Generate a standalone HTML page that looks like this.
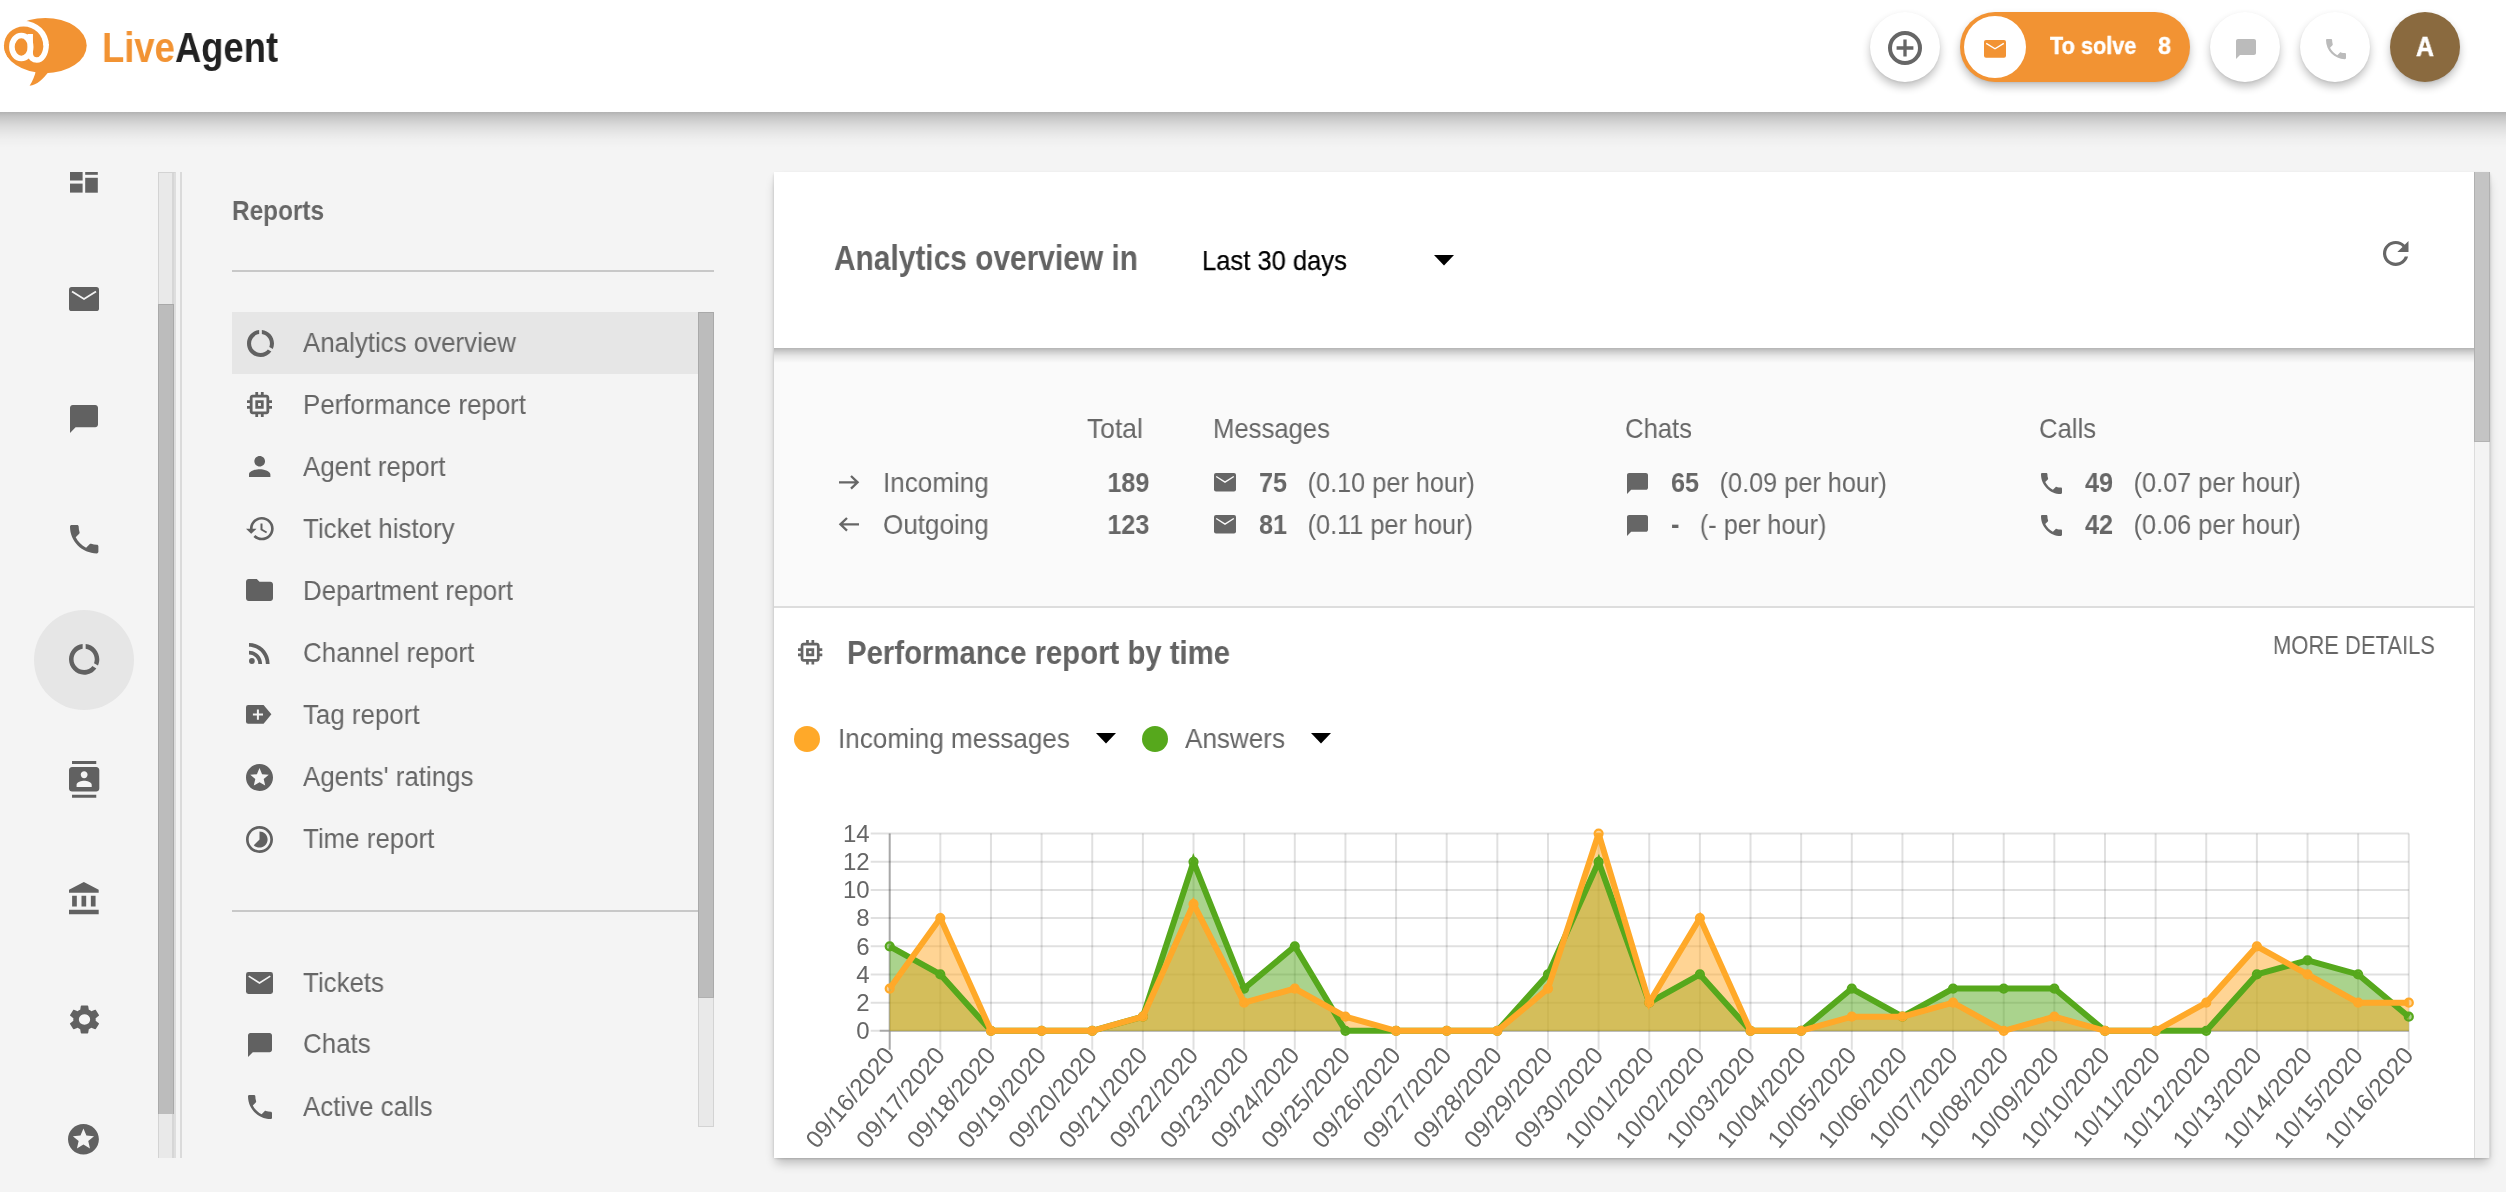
<!DOCTYPE html>
<html lang="en"><head><meta charset="utf-8"><title>LiveAgent - Analytics overview</title>
<style>
*{margin:0;padding:0;box-sizing:border-box}
html,body{width:2506px;height:1192px;overflow:hidden;-webkit-font-smoothing:antialiased;background:#f4f4f4;font-family:"Liberation Sans",Arial,sans-serif;color:#666}
.abs{position:absolute}
.t{position:absolute;line-height:1;white-space:nowrap;will-change:transform}
.i{position:absolute;overflow:visible}
</style></head><body>
<div class="abs" style="left:0;top:0;width:2506px;height:112px;background:#fff"></div>
<div class="abs" style="left:0;top:112px;width:2506px;height:36px;background:linear-gradient(to bottom,rgba(0,0,0,.27) 0px,rgba(0,0,0,.20) 4px,rgba(0,0,0,.16) 8px,rgba(0,0,0,.11) 13px,rgba(0,0,0,.074) 18px,rgba(0,0,0,.045) 23px,rgba(0,0,0,.02) 28px,rgba(0,0,0,0) 36px)"></div>
<svg class="i" style="left:0;top:0;width:100px;height:100px" viewBox="0 0 100 100">
<ellipse cx="45.3" cy="45.6" rx="41.4" ry="27.6" fill="#f29333"/>
<path d="M36 70 C35 76 32.5 81 29.6 85.8 C37 85 43 79 48.5 72 Z" fill="#f29333"/>
<path d="M-2 45.5 A25.3 24.6 0 0 1 48.9 45.5 Z" fill="#fff"/>
<ellipse cx="23.6" cy="45.5" rx="19.6" ry="19" fill="#f29333"/>
<g fill="none" stroke="#fff">
<ellipse cx="21.3" cy="47" rx="9.4" ry="11.5" stroke-width="5.6"/>
<path d="M46.2 44 C46.2 54.5 41.5 60 36.8 60 C33.5 60 30.2 58 30.2 53 L30.2 34" stroke-width="5.5"/>
</g>
</svg>
<div class="t" style="left:101.50px;top:26.89px;font-size:41.7px;font-weight:700;color:#f29333;transform:scaleX(0.873);transform-origin:0 0;">Live</div>
<div class="t" style="left:174.50px;top:26.89px;font-size:41.7px;font-weight:700;color:#222;transform:scaleX(0.873);transform-origin:0 0;">Agent</div>
<div class="abs" style="left:1870.00px;top:12.00px;width:70px;height:70px;border-radius:50%;background:#fff;box-shadow:0 5px 9px rgba(0,0,0,.24),0 1px 2px rgba(0,0,0,.06);"></div>
<svg class="i" style="left:1888px;top:30.5px;width:34px;height:34px" viewBox="0 0 34 34"><circle cx="17" cy="17" r="15" fill="none" stroke="#666" stroke-width="4"/><path d="M8.6 17H25.4M17 8.6V25.4" stroke="#666" stroke-width="3.3"/></svg>
<div class="abs" style="left:1960px;top:12px;width:230px;height:70px;border-radius:35px;background:#f29333;box-shadow:0 5px 9px rgba(0,0,0,.24),0 1px 2px rgba(0,0,0,.06)"></div>
<div class="abs" style="left:1963.70px;top:16.00px;width:62px;height:62px;border-radius:50%;background:#fff;"></div>
<svg class="i" style="left:1984.00px;top:40.00px;width:22.00px;height:17.70px" viewBox="0 0 22.00 17.70"><rect x="0" y="0" width="22.00" height="17.70" rx="1.98" fill="#f29333"/><polyline points="2.20,3.36 11.00,8.85 19.80,3.36" fill="none" stroke="#fff" stroke-width="1.30"/></svg>
<div class="t" style="left:2050.00px;top:34.09px;font-size:24.7px;font-weight:700;color:#fff;transform:scaleX(0.879);transform-origin:0 0;-webkit-text-stroke:0.4px #fff;">To solve</div>
<div class="t" style="left:2157.50px;top:34.09px;font-size:24.7px;font-weight:700;color:#fff;transform:scaleX(0.95);transform-origin:0 0;-webkit-text-stroke:0.4px #fff;">8</div>
<div class="abs" style="left:2210.00px;top:12.00px;width:70px;height:70px;border-radius:50%;background:#fff;box-shadow:0 5px 9px rgba(0,0,0,.24),0 1px 2px rgba(0,0,0,.06);"></div>
<svg class="i" style="left:2235.50px;top:38.70px;width:20.00px;height:20.00px;" viewBox="2 2 20 20" preserveAspectRatio="none"><path fill="#bbb" d="M20 2H4c-1.1 0-2 .9-2 2v18l4-4h14c1.1 0 2-.9 2-2V4c0-1.1-.9-2-2-2z"/></svg>
<div class="abs" style="left:2300.00px;top:12.00px;width:70px;height:70px;border-radius:50%;background:#fff;box-shadow:0 5px 9px rgba(0,0,0,.24),0 1px 2px rgba(0,0,0,.06);"></div>
<svg class="i" style="left:2325.70px;top:38.70px;width:20.00px;height:20.20px;" viewBox="3 3 18 18" preserveAspectRatio="none"><path fill="#bbb" d="M6.62 10.79c1.44 2.83 3.76 5.14 6.59 6.59l2.2-2.2c.27-.27.67-.36 1.02-.24 1.12.37 2.33.57 3.57.57.55 0 1 .45 1 1V20c0 .55-.45 1-1 1-9.39 0-17-7.61-17-17 0-.55.45-1 1-1h3.5c.55 0 1 .45 1 1 0 1.25.2 2.45.57 3.57.11.35.03.74-.25 1.02l-2.2 2.2z"/></svg>
<div class="abs" style="left:2390.00px;top:12.00px;width:70px;height:70px;border-radius:50%;background:#8a6a3f;box-shadow:0 5px 9px rgba(0,0,0,.24),0 1px 2px rgba(0,0,0,.06);"></div>
<div class="t" style="left:2416.30px;top:32.83px;font-size:27.6px;font-weight:700;color:#fff;transform:scaleX(0.9);transform-origin:0 0;-webkit-text-stroke:0.6px #fff;">A</div>
<svg class="i" style="left:70px;top:172px;width:28px;height:21px" viewBox="0 0 28 21"><g fill="#616161">
<rect x="0" y="0" width="12.6" height="8.5"/><rect x="0" y="11.6" width="12.6" height="9"/>
<rect x="15.2" y="0" width="12.6" height="2.8"/><rect x="15.2" y="5.8" width="12.6" height="14.9"/></g></svg>
<svg class="i" style="left:69.00px;top:287.00px;width:30.00px;height:24.10px" viewBox="0 0 30.00 24.10"><rect x="0" y="0" width="30.00" height="24.10" rx="2.70" fill="#616161"/><polyline points="3.00,4.58 15.00,12.05 27.00,4.58" fill="none" stroke="#f4f4f4" stroke-width="1.80"/></svg>
<svg class="i" style="left:70.00px;top:405.30px;width:28.00px;height:27.90px;" viewBox="2 2 20 20" preserveAspectRatio="none"><path fill="#616161" d="M20 2H4c-1.1 0-2 .9-2 2v18l4-4h14c1.1 0 2-.9 2-2V4c0-1.1-.9-2-2-2z"/></svg>
<svg class="i" style="left:70.00px;top:525.00px;width:28.40px;height:28.40px;" viewBox="3 3 18 18" preserveAspectRatio="none"><path fill="#616161" d="M6.62 10.79c1.44 2.83 3.76 5.14 6.59 6.59l2.2-2.2c.27-.27.67-.36 1.02-.24 1.12.37 2.33.57 3.57.57.55 0 1 .45 1 1V20c0 .55-.45 1-1 1-9.39 0-17-7.61-17-17 0-.55.45-1 1-1h3.5c.55 0 1 .45 1 1 0 1.25.2 2.45.57 3.57.11.35.03.74-.25 1.02l-2.2 2.2z"/></svg>
<div class="abs" style="left:34.00px;top:609.50px;width:100px;height:100px;border-radius:50%;background:#e6e6e6;"></div>
<svg class="i" style="left:69.00px;top:644.00px;width:30.30px;height:30.70px;" viewBox="2 2.05 20 19.95" preserveAspectRatio="none"><path fill="#616161" d="M13 2.05v3.03c3.39.49 6 3.39 6 6.92 0 .9-.18 1.75-.48 2.54l2.6 1.53c.56-1.24.88-2.62.88-4.07 0-5.18-3.95-9.45-9-9.95zM12 19c-3.87 0-7-3.13-7-7 0-3.53 2.61-6.43 6-6.92V2.05c-5.06.5-9 4.76-9 9.95 0 5.52 4.47 10 9.99 10 3.31 0 6.24-1.61 8.06-4.09l-2.6-1.53C16.17 17.98 14.21 19 12 19z"/></svg>
<svg class="i" style="left:69.00px;top:760.70px;width:30.30px;height:36.70px;" viewBox="2 0 20 24" preserveAspectRatio="none"><path fill="#616161" d="M20 0H4v2h16V0zM4 24h16v-2H4v2zM20 4H4c-1.1 0-2 .9-2 2v12c0 1.1.9 2 2 2h16c1.1 0 2-.9 2-2V6c0-1.1-.9-2-2-2zm-8 2.75c1.24 0 2.25 1.01 2.25 2.25s-1.01 2.25-2.25 2.25S9.75 10.24 9.75 9 10.760 6.75 12 6.75zM17 17H7v-1.5c0-1.67 3.33-2.5 5-2.5s5 .83 5 2.5V17z"/></svg>
<svg class="i" style="left:69.00px;top:882.20px;width:29.70px;height:32.30px;" viewBox="2 1 19 21" preserveAspectRatio="none"><path fill="#616161" d="M4 10v7h3v-7H4zm6 0v7h3v-7h-3zM2 22h19v-3H2v3zm14-12v7h3v-7h-3zm-4.5-9L2 6v2h19V6l-9.5-5z"/></svg>
<svg class="i" style="left:69.70px;top:1004.60px;width:29.00px;height:29.00px;" viewBox="2.7 2 18.6 20" preserveAspectRatio="none"><path fill="#616161" d="M19.14 12.94c.04-.3.06-.61.06-.94 0-.32-.02-.64-.07-.94l2.03-1.58c.18-.14.23-.41.12-.61l-1.92-3.32c-.12-.22-.37-.29-.59-.22l-2.39.96c-.5-.38-1.03-.7-1.62-.94l-.36-2.54c-.04-.24-.24-.41-.48-.41h-3.84c-.24 0-.43.17-.47.41l-.36 2.54c-.59.24-1.13.57-1.62.94l-2.39-.96c-.22-.08-.47 0-.59.22L2.74 8.87c-.12.21-.08.47.12.61l2.03 1.58c-.05.3-.09.63-.09.94s.02.64.07.94l-2.03 1.58c-.18.14-.23.41-.12.61l1.920 3.32c.12.22.37.29.59.22l2.39-.96c.5.38 1.03.7 1.62.94l.36 2.54c.05.24.24.41.48.41h3.84c.24 0 .44-.17.47-.41l.36-2.54c.59-.24 1.13-.56 1.62-.94l2.39.96c.22.08.47 0 .59-.22l1.92-3.32c.12-.22.07-.47-.12-.61l-2.01-1.58zM12 15.6c-1.98 0-3.6-1.62-3.6-3.6s1.62-3.6 3.6-3.6 3.6 1.62 3.6 3.6-1.62 3.6-3.6 3.6z"/></svg>
<svg class="i" style="left:68.40px;top:1124.00px;width:30.90px;height:30.60px;" viewBox="2 2 20 20" preserveAspectRatio="none"><path fill="#616161" d="M11.99 2C6.47 2 2 6.48 2 12s4.47 10 9.99 10C17.52 22 22 17.52 22 12S17.52 2 11.99 2zm4.24 16L12 15.45 7.77 18l1.12-4.81-3.73-3.23 4.92-.42L12 5l1.92 4.53 4.92.42-3.73 3.23L16.230 18z"/></svg>
<div class="abs" style="left:158px;top:172px;width:18px;height:986px;background:#e9e9e9;border-left:1px solid #d3d3d3;border-right:2px solid #dedede;border-top:1px solid #d3d3d3;box-shadow:inset -2px 0 0 #d6d6d6"></div>
<div class="abs" style="left:158px;top:304px;width:16px;height:810px;background:#bcbcbc;border-left:1px solid #a9a9a9;border-right:1px solid #a9a9a9;border-top:1px solid #a9a9a9"></div>
<div class="abs" style="left:180px;top:172px;width:2px;height:986px;background:#dadada"></div>
<div class="t" style="left:232.00px;top:197.13px;font-size:27.6px;font-weight:700;color:#666;transform:scaleX(0.882);transform-origin:0 0;">Reports</div>
<div class="abs" style="left:232px;top:269.5px;width:482px;height:2px;background:#c8c8c8"></div>
<div class="abs" style="left:232px;top:312px;width:466px;height:62px;background:#e6e6e6"></div>
<div class="abs" style="left:698px;top:312px;width:16px;height:815px;background:#e9e9e9;border-left:1px solid #d3d3d3;border-right:1px solid #d3d3d3;border-bottom:1px solid #d3d3d3"></div>
<div class="abs" style="left:698px;top:312px;width:16px;height:686px;background:#bcbcbc;border-left:1px solid #a9a9a9;border-right:1px solid #a9a9a9;border-top:1px solid #a9a9a9;border-bottom:1px solid #b0b0b0"></div>
<svg class="i" style="left:246.50px;top:330.00px;width:27.00px;height:27.00px;" viewBox="2 2.05 20 19.95" preserveAspectRatio="none"><path fill="#616161" d="M13 2.05v3.03c3.39.49 6 3.39 6 6.92 0 .9-.18 1.75-.48 2.54l2.6 1.53c.56-1.24.88-2.62.88-4.07 0-5.18-3.95-9.45-9-9.95zM12 19c-3.87 0-7-3.13-7-7 0-3.53 2.61-6.43 6-6.92V2.05c-5.06.5-9 4.76-9 9.95 0 5.52 4.47 10 9.99 10 3.31 0 6.24-1.61 8.06-4.09l-2.6-1.53C16.17 17.98 14.21 19 12 19z"/></svg>
<div class="t" style="left:302.60px;top:329.05px;font-size:27.7px;color:#666;transform:scaleX(0.935);transform-origin:0 0;">Analytics overview</div>
<svg class="i" style="left:247.00px;top:392.00px;width:25.00px;height:25.00px;" viewBox="3 3 18 18" preserveAspectRatio="none"><path fill="#616161" d="M15 9H9v6h6V9zm-2 4h-2v-2h2v2zm8-2V9h-2V7c0-1.1-.9-2-2-2h-2V3h-2v2h-2V3H9v2H7c-1.1 0-2 .9-2 2v2H3v2h2v2H3v2h2v2c0 1.1.9 2 2 2h2v2h2v-2h2v2h2v-2h2c1.1 0 2-.9 2-2v-2h2v-2h-2v-2h2zm-4 6H7V7h10v10z"/></svg>
<div class="t" style="left:302.60px;top:391.05px;font-size:27.7px;color:#666;transform:scaleX(0.935);transform-origin:0 0;">Performance report</div>
<svg class="i" style="left:249.00px;top:456.00px;width:21.40px;height:21.00px;" viewBox="4 4 16 16" preserveAspectRatio="none"><path fill="#616161" d="M12 12c2.21 0 4-1.79 4-4s-1.79-4-4-4-4 1.79-4 4 1.79 4 4 4zm0 2c-2.67 0-8 1.34-8 4v2h16v-2c0-2.66-5.330-4-8-4z"/></svg>
<div class="t" style="left:302.60px;top:453.05px;font-size:27.7px;color:#666;transform:scaleX(0.935);transform-origin:0 0;">Agent report</div>
<svg class="i" style="left:245.90px;top:517.20px;width:27.70px;height:23.30px;" viewBox="1 3 21 18" preserveAspectRatio="none"><path fill="#616161" d="M13 3c-4.97 0-9 4.03-9 9H1l3.89 3.89.07.14L9 12H6c0-3.87 3.13-7 7-7s7 3.13 7 7-3.13 7-7 7c-1.93 0-3.68-.79-4.94-2.06l-1.42 1.42C8.27 19.99 10.51 21 13 21c4.97 0 9-4.03 9-9s-4.03-9-9-9zm-1 5v5l4.28 2.54.72-1.21-3.5-2.08V8H12z"/></svg>
<div class="t" style="left:302.60px;top:515.05px;font-size:27.7px;color:#666;transform:scaleX(0.935);transform-origin:0 0;">Ticket history</div>
<svg class="i" style="left:246.00px;top:579.00px;width:27.00px;height:22.00px;" viewBox="2 4 20 16" preserveAspectRatio="none"><path fill="#616161" d="M10 4H4c-1.1 0-1.99.9-1.99 2L2 18c0 1.1.9 2 2 2h16c1.1 0 2-.9 2-2V8c0-1.1-.9-2-2-2h-8l-2-2z"/></svg>
<div class="t" style="left:302.60px;top:577.05px;font-size:27.7px;color:#666;transform:scaleX(0.935);transform-origin:0 0;">Department report</div>
<svg class="i" style="left:249.00px;top:643.00px;width:20.60px;height:21.00px;" viewBox="4 4.44 15.56 15.56" preserveAspectRatio="none"><path fill="#616161" d="M6.18 15.64a2.18 2.18 0 1 1 0 4.36 2.18 2.18 0 0 1 0-4.36zM4 4.44v2.83c7.03 0 12.73 5.7 12.73 12.73h2.83c0-8.59-6.97-15.56-15.56-15.56zm0 5.66v2.83c3.9 0 7.07 3.17 7.07 7.07h2.83c0-5.47-4.43-9.9-9.9-9.9z"/></svg>
<div class="t" style="left:302.60px;top:639.05px;font-size:27.7px;color:#666;transform:scaleX(0.935);transform-origin:0 0;">Channel report</div>
<svg class="i" style="left:246.1px;top:705.3px;width:25.4px;height:18.7px" viewBox="0 0 25.4 18.7"><path d="M2.2 0H17.6L25.4 9.35L17.6 18.7H2.2Q0 18.7 0 16.5V2.2Q0 0 2.2 0Z" fill="#616161"/><path d="M6.9 8.6H17V10.6H6.9ZM10.9 4.5H12.9V14.7H10.9Z" fill="#f4f4f4"/></svg>
<div class="t" style="left:302.60px;top:701.05px;font-size:27.7px;color:#666;transform:scaleX(0.935);transform-origin:0 0;">Tag report</div>
<svg class="i" style="left:246.00px;top:764.00px;width:27.00px;height:27.00px;" viewBox="2 2 20 20" preserveAspectRatio="none"><path fill="#616161" d="M11.99 2C6.47 2 2 6.48 2 12s4.47 10 9.99 10C17.52 22 22 17.52 22 12S17.52 2 11.99 2zm4.24 16L12 15.45 7.77 18l1.12-4.81-3.73-3.23 4.92-.42L12 5l1.92 4.53 4.92.42-3.73 3.23L16.230 18z"/></svg>
<div class="t" style="left:302.60px;top:763.05px;font-size:27.7px;color:#666;transform:scaleX(0.935);transform-origin:0 0;">Agents' ratings</div>
<svg class="i" style="left:246.00px;top:826.00px;width:27.00px;height:27.00px;" viewBox="2 2 20 20" preserveAspectRatio="none"><path fill="#616161" d="M16.24 7.76C15.07 6.59 13.54 6 12 6v6l-4.24 4.24c2.34 2.34 6.14 2.34 8.49 0 2.34-2.34 2.34-6.14-.01-8.48zM12 2C6.48 2 2 6.48 2 12s4.48 10 10 10 10-4.48 10-10S17.52 2 12 2zm0 18c-4.42 0-8-3.58-8-8s3.58-8 8-8 8 3.58 8 8-3.58 8-8 8z"/></svg>
<div class="t" style="left:302.60px;top:825.05px;font-size:27.7px;color:#666;transform:scaleX(0.935);transform-origin:0 0;">Time report</div>
<div class="abs" style="left:232px;top:910px;width:466px;height:2px;background:#c8c8c8"></div>
<svg class="i" style="left:246.00px;top:972.00px;width:27.00px;height:22.00px" viewBox="0 0 27.00 22.00"><rect x="0" y="0" width="27.00" height="22.00" rx="2.43" fill="#616161"/><polyline points="2.70,4.18 13.50,11.00 24.30,4.18" fill="none" stroke="#f4f4f4" stroke-width="1.60"/></svg>
<div class="t" style="left:302.60px;top:968.55px;font-size:27.7px;color:#666;transform:scaleX(0.935);transform-origin:0 0;">Tickets</div>
<svg class="i" style="left:247.50px;top:1033.00px;width:24.00px;height:24.00px;" viewBox="2 2 20 20" preserveAspectRatio="none"><path fill="#616161" d="M20 2H4c-1.1 0-2 .9-2 2v18l4-4h14c1.1 0 2-.9 2-2V4c0-1.1-.9-2-2-2z"/></svg>
<div class="t" style="left:302.60px;top:1030.35px;font-size:27.7px;color:#666;transform:scaleX(0.935);transform-origin:0 0;">Chats</div>
<svg class="i" style="left:247.50px;top:1095.00px;width:24.00px;height:24.00px;" viewBox="3 3 18 18" preserveAspectRatio="none"><path fill="#616161" d="M6.62 10.79c1.44 2.83 3.76 5.14 6.59 6.59l2.2-2.2c.27-.27.67-.36 1.02-.24 1.12.37 2.33.57 3.57.57.55 0 1 .45 1 1V20c0 .55-.45 1-1 1-9.39 0-17-7.61-17-17 0-.55.45-1 1-1h3.5c.55 0 1 .45 1 1 0 1.25.2 2.45.57 3.57.11.35.03.74-.25 1.02l-2.2 2.2z"/></svg>
<div class="t" style="left:302.60px;top:1092.55px;font-size:27.7px;color:#666;transform:scaleX(0.935);transform-origin:0 0;">Active calls</div>
<div class="abs" style="left:774px;top:172px;width:1716px;height:986px;background:#fff;box-shadow:0 7px 10px -2px rgba(0,0,0,.24),-1px 1px 3px -1px rgba(0,0,0,.14),1px 1px 3px -1px rgba(0,0,0,.14)"></div>
<div class="abs" style="left:774px;top:348px;width:1700px;height:258px;background:#fafafa"></div>
<div class="abs" style="left:774px;top:348px;width:1700px;height:16px;background:linear-gradient(to bottom,rgba(0,0,0,.28),rgba(0,0,0,.17) 4px,rgba(0,0,0,.08) 8px,rgba(0,0,0,.03) 12px,rgba(0,0,0,0) 15px)"></div>
<div class="abs" style="left:774px;top:606px;width:1700px;height:2px;background:#dddddd"></div>
<div class="abs" style="left:2474px;top:172px;width:16px;height:986px;background:#f3f3f3;border-left:1px solid #dcdcdc;border-right:1px solid #dcdcdc"></div>
<div class="abs" style="left:2474px;top:172px;width:16px;height:270px;background:#c4c4c4;border-left:1px solid #b0b0b0;border-right:1px solid #b0b0b0;border-bottom:1px solid #b3b3b3"></div>
<div class="t" style="left:834.00px;top:241.17px;font-size:34.4px;font-weight:700;color:#636363;transform:scaleX(0.869);transform-origin:0 0;">Analytics overview in</div>
<div class="t" style="left:1202.00px;top:247.08px;font-size:27.9px;color:#000;transform:scaleX(0.916);transform-origin:0 0;-webkit-text-stroke:0.25px #000;">Last 30 days</div>
<svg class="i" style="left:1434px;top:254.5px;width:20px;height:10.5px" viewBox="0 0 20 10.5"><path d="M0 0h20L10 10.5z" fill="#000"/></svg>
<svg class="i" style="left:2383.00px;top:240.50px;width:25.50px;height:24.90px;" viewBox="4.01 4 15.99 16" preserveAspectRatio="none"><path fill="#666" d="M17.65 6.35C16.2 4.9 14.21 4 12 4c-4.42 0-7.99 3.58-7.99 8s3.57 8 7.99 8c3.73 0 6.84-2.55 7.73-6h-2.08c-.82 2.33-3.04 4-5.65 4-3.31 0-6-2.69-6-6s2.69-6 6-6c1.66 0 3.14.69 4.22 1.78L13 11h7V4l-2.35 2.35z"/></svg>
<div class="t" style="left:1086.50px;top:414.63px;font-size:27.6px;color:#666;transform:scaleX(0.957);transform-origin:0 0;">Total</div>
<div class="t" style="left:1213.00px;top:414.63px;font-size:27.6px;color:#666;transform:scaleX(0.93);transform-origin:0 0;">Messages</div>
<div class="t" style="left:1624.60px;top:414.63px;font-size:27.6px;color:#666;transform:scaleX(0.93);transform-origin:0 0;">Chats</div>
<div class="t" style="left:2038.50px;top:414.63px;font-size:27.6px;color:#666;transform:scaleX(0.93);transform-origin:0 0;">Calls</div>
<svg class="i" style="left:838px;top:474px;width:22px;height:16px" viewBox="0 0 22 16"><path d="M1 8.3H19.5M13 2L19.6 8.3L13 14.6" fill="none" stroke="#666" stroke-width="2.3"/></svg>
<svg class="i" style="left:838px;top:516px;width:22px;height:16px" viewBox="0 0 22 16"><path d="M21 8.3H2.5M9 2L2.4 8.3L9 14.6" fill="none" stroke="#666" stroke-width="2.3"/></svg>
<div class="t" style="left:883.30px;top:468.97px;font-size:27.2px;color:#666;transform:scaleX(0.958);transform-origin:0 0;">Incoming</div>
<div class="t" style="left:883.30px;top:510.97px;font-size:27.2px;color:#666;transform:scaleX(0.958);transform-origin:0 0;">Outgoing</div>
<div class="t" style="right:1356.30px;top:468.97px;font-size:27.2px;font-weight:700;color:#666;transform:scaleX(0.923);transform-origin:100% 0;">189</div>
<div class="t" style="right:1356.30px;top:510.97px;font-size:27.2px;font-weight:700;color:#666;transform:scaleX(0.923);transform-origin:100% 0;">123</div>
<svg class="i" style="left:1214.00px;top:473.00px;width:22.00px;height:18.40px" viewBox="0 0 22.00 18.40"><rect x="0" y="0" width="22.00" height="18.40" rx="1.98" fill="#666"/><polyline points="2.20,3.50 11.00,9.20 19.80,3.50" fill="none" stroke="#fafafa" stroke-width="1.40"/></svg>
<div class="t" style="left:1258.5px;top:468.97px;font-size:27.2px;color:#666;transform:scaleX(0.93);transform-origin:0 0;white-space:nowrap"><b style="margin-right:22px">75</b>(0.10 per hour)</div>
<svg class="i" style="left:1214.00px;top:515.00px;width:22.00px;height:18.40px" viewBox="0 0 22.00 18.40"><rect x="0" y="0" width="22.00" height="18.40" rx="1.98" fill="#666"/><polyline points="2.20,3.50 11.00,9.20 19.80,3.50" fill="none" stroke="#fafafa" stroke-width="1.40"/></svg>
<div class="t" style="left:1258.5px;top:510.97px;font-size:27.2px;color:#666;transform:scaleX(0.93);transform-origin:0 0;white-space:nowrap"><b style="margin-right:22px">81</b>(0.11 per hour)</div>
<svg class="i" style="left:1626.50px;top:473.00px;width:21.00px;height:21.00px;" viewBox="2 2 20 20" preserveAspectRatio="none"><path fill="#666" d="M20 2H4c-1.1 0-2 .9-2 2v18l4-4h14c1.1 0 2-.9 2-2V4c0-1.1-.9-2-2-2z"/></svg>
<div class="t" style="left:1670.5px;top:468.97px;font-size:27.2px;color:#666;transform:scaleX(0.93);transform-origin:0 0;white-space:nowrap"><b style="margin-right:22px">65</b>(0.09 per hour)</div>
<svg class="i" style="left:1626.50px;top:515.00px;width:21.00px;height:21.00px;" viewBox="2 2 20 20" preserveAspectRatio="none"><path fill="#666" d="M20 2H4c-1.1 0-2 .9-2 2v18l4-4h14c1.1 0 2-.9 2-2V4c0-1.1-.9-2-2-2z"/></svg>
<div class="t" style="left:1670.5px;top:510.97px;font-size:27.2px;color:#666;transform:scaleX(0.93);transform-origin:0 0;white-space:nowrap"><b style="margin-right:22px">-</b>(- per hour)</div>
<svg class="i" style="left:2040.50px;top:472.50px;width:21.00px;height:21.00px;" viewBox="3 3 18 18" preserveAspectRatio="none"><path fill="#666" d="M6.62 10.79c1.44 2.83 3.76 5.14 6.59 6.59l2.2-2.2c.27-.27.67-.36 1.02-.24 1.12.37 2.33.57 3.57.57.55 0 1 .45 1 1V20c0 .55-.45 1-1 1-9.39 0-17-7.61-17-17 0-.55.45-1 1-1h3.5c.55 0 1 .45 1 1 0 1.25.2 2.45.57 3.57.11.35.03.74-.25 1.02l-2.2 2.2z"/></svg>
<div class="t" style="left:2084.5px;top:468.97px;font-size:27.2px;color:#666;transform:scaleX(0.93);transform-origin:0 0;white-space:nowrap"><b style="margin-right:22px">49</b>(0.07 per hour)</div>
<svg class="i" style="left:2040.50px;top:514.50px;width:21.00px;height:21.00px;" viewBox="3 3 18 18" preserveAspectRatio="none"><path fill="#666" d="M6.62 10.79c1.44 2.83 3.76 5.14 6.59 6.59l2.2-2.2c.27-.27.67-.36 1.02-.24 1.12.37 2.33.57 3.57.57.55 0 1 .45 1 1V20c0 .55-.45 1-1 1-9.39 0-17-7.61-17-17 0-.55.45-1 1-1h3.5c.55 0 1 .45 1 1 0 1.25.2 2.45.57 3.57.11.35.03.74-.25 1.02l-2.2 2.2z"/></svg>
<div class="t" style="left:2084.5px;top:510.97px;font-size:27.2px;color:#666;transform:scaleX(0.93);transform-origin:0 0;white-space:nowrap"><b style="margin-right:22px">42</b>(0.06 per hour)</div>
<svg class="i" style="left:797.70px;top:640.00px;width:24.30px;height:24.50px;" viewBox="3 3 18 18" preserveAspectRatio="none"><path fill="#666" d="M15 9H9v6h6V9zm-2 4h-2v-2h2v2zm8-2V9h-2V7c0-1.1-.9-2-2-2h-2V3h-2v2h-2V3H9v2H7c-1.1 0-2 .9-2 2v2H3v2h2v2H3v2h2v2c0 1.1.9 2 2 2h2v2h2v-2h2v2h2v-2h2c1.1 0 2-.9 2-2v-2h2v-2h-2v-2h2zm-4 6H7V7h10v10z"/></svg>
<div class="t" style="left:847.00px;top:635.76px;font-size:33px;font-weight:700;color:#636363;transform:scaleX(0.889);transform-origin:0 0;">Performance report by time</div>
<div class="t" style="left:2272.80px;top:631.82px;font-size:26.2px;color:#666;transform:scaleX(0.839);transform-origin:0 0;">MORE DETAILS</div>
<div class="abs" style="left:794px;top:726px;width:26px;height:26px;border-radius:50%;background:#ffa929"></div>
<div class="t" style="left:837.70px;top:724.97px;font-size:27.2px;color:#666;transform:scaleX(0.959);transform-origin:0 0;">Incoming messages</div>
<svg class="i" style="left:1096px;top:733px;width:20px;height:10.5px" viewBox="0 0 20 10.5"><path d="M0 0h20L10 10.5z" fill="#000"/></svg>
<div class="abs" style="left:1142px;top:726px;width:26px;height:26px;border-radius:50%;background:#56a81c"></div>
<div class="t" style="left:1185.00px;top:724.97px;font-size:27.2px;color:#666;transform:scaleX(0.959);transform-origin:0 0;">Answers</div>
<svg class="i" style="left:1310.5px;top:733px;width:20px;height:10.5px" viewBox="0 0 20 10.5"><path d="M0 0h20L10 10.5z" fill="#000"/></svg>
<svg class="i" style="left:0;top:0;width:2506px;height:1192px;will-change:transform" viewBox="0 0 2506 1192">
<path d="M870.7 1030.80H2408.8 M870.7 1002.63H2408.8 M870.7 974.46H2408.8 M870.7 946.29H2408.8 M870.7 918.11H2408.8 M870.7 889.94H2408.8 M870.7 861.77H2408.8 M870.7 833.60H2408.8" stroke="rgba(0,0,0,.12)" stroke-width="2" fill="none"/>
<path d="M889.70 833.6V1049.8 M940.34 833.6V1049.8 M990.97 833.6V1049.8 M1041.61 833.6V1049.8 M1092.25 833.6V1049.8 M1142.88 833.6V1049.8 M1193.52 833.6V1049.8 M1244.16 833.6V1049.8 M1294.79 833.6V1049.8 M1345.43 833.6V1049.8 M1396.07 833.6V1049.8 M1446.70 833.6V1049.8 M1497.34 833.6V1049.8 M1547.98 833.6V1049.8 M1598.61 833.6V1049.8 M1649.25 833.6V1049.8 M1699.89 833.6V1049.8 M1750.52 833.6V1049.8 M1801.16 833.6V1049.8 M1851.80 833.6V1049.8 M1902.43 833.6V1049.8 M1953.07 833.6V1049.8 M2003.71 833.6V1049.8 M2054.34 833.6V1049.8 M2104.98 833.6V1049.8 M2155.62 833.6V1049.8 M2206.25 833.6V1049.8 M2256.89 833.6V1049.8 M2307.53 833.6V1049.8 M2358.16 833.6V1049.8 M2408.80 833.6V1049.8" stroke="rgba(0,0,0,.12)" stroke-width="2" fill="none"/>
<path d="M889.70 833.6V1049.8M879.7 1030.80H2408.8" stroke="rgba(0,0,0,.25)" stroke-width="2" fill="none"/>
<polygon points="889.70,1030.80 889.70,946.29 940.34,974.46 990.97,1030.80 1041.61,1030.80 1092.25,1030.80 1142.88,1016.71 1193.52,861.77 1244.16,988.54 1294.79,946.29 1345.43,1030.80 1396.07,1030.80 1446.70,1030.80 1497.34,1030.80 1547.98,974.46 1598.61,861.77 1649.25,1002.63 1699.89,974.46 1750.52,1030.80 1801.16,1030.80 1851.80,988.54 1902.43,1016.71 1953.07,988.54 2003.71,988.54 2054.34,988.54 2104.98,1030.80 2155.62,1030.80 2206.25,1030.80 2256.89,974.46 2307.53,960.37 2358.16,974.46 2408.80,1016.71 2408.80,1030.80" fill="rgba(86,168,28,.5)"/>
<polygon points="889.70,1030.80 889.70,988.54 940.34,918.11 990.97,1030.80 1041.61,1030.80 1092.25,1030.80 1142.88,1016.71 1193.52,904.03 1244.16,1002.63 1294.79,988.54 1345.43,1016.71 1396.07,1030.80 1446.70,1030.80 1497.34,1030.80 1547.98,988.54 1598.61,833.60 1649.25,1002.63 1699.89,918.11 1750.52,1030.80 1801.16,1030.80 1851.80,1016.71 1902.43,1016.71 1953.07,1002.63 2003.71,1030.80 2054.34,1016.71 2104.98,1030.80 2155.62,1030.80 2206.25,1002.63 2256.89,946.29 2307.53,974.46 2358.16,1002.63 2408.80,1002.63 2408.80,1030.80" fill="rgba(255,169,41,.5)"/>
<polyline points="889.70,946.29 940.34,974.46 990.97,1030.80 1041.61,1030.80 1092.25,1030.80 1142.88,1016.71 1193.52,861.77 1244.16,988.54 1294.79,946.29 1345.43,1030.80 1396.07,1030.80 1446.70,1030.80 1497.34,1030.80 1547.98,974.46 1598.61,861.77 1649.25,1002.63 1699.89,974.46 1750.52,1030.80 1801.16,1030.80 1851.80,988.54 1902.43,1016.71 1953.07,988.54 2003.71,988.54 2054.34,988.54 2104.98,1030.80 2155.62,1030.80 2206.25,1030.80 2256.89,974.46 2307.53,960.37 2358.16,974.46 2408.80,1016.71" fill="none" stroke="#56a81c" stroke-width="6" stroke-linejoin="miter" stroke-miterlimit="3"/>
<circle cx="889.70" cy="946.29" r="4" fill="rgba(86,168,28,.5)" stroke="#56a81c" stroke-width="2.2"/>
<circle cx="940.34" cy="974.46" r="4" fill="rgba(86,168,28,.5)" stroke="#56a81c" stroke-width="2.2"/>
<circle cx="990.97" cy="1030.80" r="4" fill="rgba(86,168,28,.5)" stroke="#56a81c" stroke-width="2.2"/>
<circle cx="1041.61" cy="1030.80" r="4" fill="rgba(86,168,28,.5)" stroke="#56a81c" stroke-width="2.2"/>
<circle cx="1092.25" cy="1030.80" r="4" fill="rgba(86,168,28,.5)" stroke="#56a81c" stroke-width="2.2"/>
<circle cx="1142.88" cy="1016.71" r="4" fill="rgba(86,168,28,.5)" stroke="#56a81c" stroke-width="2.2"/>
<circle cx="1193.52" cy="861.77" r="4" fill="rgba(86,168,28,.5)" stroke="#56a81c" stroke-width="2.2"/>
<circle cx="1244.16" cy="988.54" r="4" fill="rgba(86,168,28,.5)" stroke="#56a81c" stroke-width="2.2"/>
<circle cx="1294.79" cy="946.29" r="4" fill="rgba(86,168,28,.5)" stroke="#56a81c" stroke-width="2.2"/>
<circle cx="1345.43" cy="1030.80" r="4" fill="rgba(86,168,28,.5)" stroke="#56a81c" stroke-width="2.2"/>
<circle cx="1396.07" cy="1030.80" r="4" fill="rgba(86,168,28,.5)" stroke="#56a81c" stroke-width="2.2"/>
<circle cx="1446.70" cy="1030.80" r="4" fill="rgba(86,168,28,.5)" stroke="#56a81c" stroke-width="2.2"/>
<circle cx="1497.34" cy="1030.80" r="4" fill="rgba(86,168,28,.5)" stroke="#56a81c" stroke-width="2.2"/>
<circle cx="1547.98" cy="974.46" r="4" fill="rgba(86,168,28,.5)" stroke="#56a81c" stroke-width="2.2"/>
<circle cx="1598.61" cy="861.77" r="4" fill="rgba(86,168,28,.5)" stroke="#56a81c" stroke-width="2.2"/>
<circle cx="1649.25" cy="1002.63" r="4" fill="rgba(86,168,28,.5)" stroke="#56a81c" stroke-width="2.2"/>
<circle cx="1699.89" cy="974.46" r="4" fill="rgba(86,168,28,.5)" stroke="#56a81c" stroke-width="2.2"/>
<circle cx="1750.52" cy="1030.80" r="4" fill="rgba(86,168,28,.5)" stroke="#56a81c" stroke-width="2.2"/>
<circle cx="1801.16" cy="1030.80" r="4" fill="rgba(86,168,28,.5)" stroke="#56a81c" stroke-width="2.2"/>
<circle cx="1851.80" cy="988.54" r="4" fill="rgba(86,168,28,.5)" stroke="#56a81c" stroke-width="2.2"/>
<circle cx="1902.43" cy="1016.71" r="4" fill="rgba(86,168,28,.5)" stroke="#56a81c" stroke-width="2.2"/>
<circle cx="1953.07" cy="988.54" r="4" fill="rgba(86,168,28,.5)" stroke="#56a81c" stroke-width="2.2"/>
<circle cx="2003.71" cy="988.54" r="4" fill="rgba(86,168,28,.5)" stroke="#56a81c" stroke-width="2.2"/>
<circle cx="2054.34" cy="988.54" r="4" fill="rgba(86,168,28,.5)" stroke="#56a81c" stroke-width="2.2"/>
<circle cx="2104.98" cy="1030.80" r="4" fill="rgba(86,168,28,.5)" stroke="#56a81c" stroke-width="2.2"/>
<circle cx="2155.62" cy="1030.80" r="4" fill="rgba(86,168,28,.5)" stroke="#56a81c" stroke-width="2.2"/>
<circle cx="2206.25" cy="1030.80" r="4" fill="rgba(86,168,28,.5)" stroke="#56a81c" stroke-width="2.2"/>
<circle cx="2256.89" cy="974.46" r="4" fill="rgba(86,168,28,.5)" stroke="#56a81c" stroke-width="2.2"/>
<circle cx="2307.53" cy="960.37" r="4" fill="rgba(86,168,28,.5)" stroke="#56a81c" stroke-width="2.2"/>
<circle cx="2358.16" cy="974.46" r="4" fill="rgba(86,168,28,.5)" stroke="#56a81c" stroke-width="2.2"/>
<circle cx="2408.80" cy="1016.71" r="4" fill="rgba(86,168,28,.5)" stroke="#56a81c" stroke-width="2.2"/>
<polyline points="889.70,988.54 940.34,918.11 990.97,1030.80 1041.61,1030.80 1092.25,1030.80 1142.88,1016.71 1193.52,904.03 1244.16,1002.63 1294.79,988.54 1345.43,1016.71 1396.07,1030.80 1446.70,1030.80 1497.34,1030.80 1547.98,988.54 1598.61,833.60 1649.25,1002.63 1699.89,918.11 1750.52,1030.80 1801.16,1030.80 1851.80,1016.71 1902.43,1016.71 1953.07,1002.63 2003.71,1030.80 2054.34,1016.71 2104.98,1030.80 2155.62,1030.80 2206.25,1002.63 2256.89,946.29 2307.53,974.46 2358.16,1002.63 2408.80,1002.63" fill="none" stroke="#ffa929" stroke-width="6" stroke-linejoin="miter" stroke-miterlimit="3"/>
<circle cx="889.70" cy="988.54" r="4" fill="rgba(255,169,41,.5)" stroke="#ffa929" stroke-width="2.2"/>
<circle cx="940.34" cy="918.11" r="4" fill="rgba(255,169,41,.5)" stroke="#ffa929" stroke-width="2.2"/>
<circle cx="990.97" cy="1030.80" r="4" fill="rgba(255,169,41,.5)" stroke="#ffa929" stroke-width="2.2"/>
<circle cx="1041.61" cy="1030.80" r="4" fill="rgba(255,169,41,.5)" stroke="#ffa929" stroke-width="2.2"/>
<circle cx="1092.25" cy="1030.80" r="4" fill="rgba(255,169,41,.5)" stroke="#ffa929" stroke-width="2.2"/>
<circle cx="1142.88" cy="1016.71" r="4" fill="rgba(255,169,41,.5)" stroke="#ffa929" stroke-width="2.2"/>
<circle cx="1193.52" cy="904.03" r="4" fill="rgba(255,169,41,.5)" stroke="#ffa929" stroke-width="2.2"/>
<circle cx="1244.16" cy="1002.63" r="4" fill="rgba(255,169,41,.5)" stroke="#ffa929" stroke-width="2.2"/>
<circle cx="1294.79" cy="988.54" r="4" fill="rgba(255,169,41,.5)" stroke="#ffa929" stroke-width="2.2"/>
<circle cx="1345.43" cy="1016.71" r="4" fill="rgba(255,169,41,.5)" stroke="#ffa929" stroke-width="2.2"/>
<circle cx="1396.07" cy="1030.80" r="4" fill="rgba(255,169,41,.5)" stroke="#ffa929" stroke-width="2.2"/>
<circle cx="1446.70" cy="1030.80" r="4" fill="rgba(255,169,41,.5)" stroke="#ffa929" stroke-width="2.2"/>
<circle cx="1497.34" cy="1030.80" r="4" fill="rgba(255,169,41,.5)" stroke="#ffa929" stroke-width="2.2"/>
<circle cx="1547.98" cy="988.54" r="4" fill="rgba(255,169,41,.5)" stroke="#ffa929" stroke-width="2.2"/>
<circle cx="1598.61" cy="833.60" r="4" fill="rgba(255,169,41,.5)" stroke="#ffa929" stroke-width="2.2"/>
<circle cx="1649.25" cy="1002.63" r="4" fill="rgba(255,169,41,.5)" stroke="#ffa929" stroke-width="2.2"/>
<circle cx="1699.89" cy="918.11" r="4" fill="rgba(255,169,41,.5)" stroke="#ffa929" stroke-width="2.2"/>
<circle cx="1750.52" cy="1030.80" r="4" fill="rgba(255,169,41,.5)" stroke="#ffa929" stroke-width="2.2"/>
<circle cx="1801.16" cy="1030.80" r="4" fill="rgba(255,169,41,.5)" stroke="#ffa929" stroke-width="2.2"/>
<circle cx="1851.80" cy="1016.71" r="4" fill="rgba(255,169,41,.5)" stroke="#ffa929" stroke-width="2.2"/>
<circle cx="1902.43" cy="1016.71" r="4" fill="rgba(255,169,41,.5)" stroke="#ffa929" stroke-width="2.2"/>
<circle cx="1953.07" cy="1002.63" r="4" fill="rgba(255,169,41,.5)" stroke="#ffa929" stroke-width="2.2"/>
<circle cx="2003.71" cy="1030.80" r="4" fill="rgba(255,169,41,.5)" stroke="#ffa929" stroke-width="2.2"/>
<circle cx="2054.34" cy="1016.71" r="4" fill="rgba(255,169,41,.5)" stroke="#ffa929" stroke-width="2.2"/>
<circle cx="2104.98" cy="1030.80" r="4" fill="rgba(255,169,41,.5)" stroke="#ffa929" stroke-width="2.2"/>
<circle cx="2155.62" cy="1030.80" r="4" fill="rgba(255,169,41,.5)" stroke="#ffa929" stroke-width="2.2"/>
<circle cx="2206.25" cy="1002.63" r="4" fill="rgba(255,169,41,.5)" stroke="#ffa929" stroke-width="2.2"/>
<circle cx="2256.89" cy="946.29" r="4" fill="rgba(255,169,41,.5)" stroke="#ffa929" stroke-width="2.2"/>
<circle cx="2307.53" cy="974.46" r="4" fill="rgba(255,169,41,.5)" stroke="#ffa929" stroke-width="2.2"/>
<circle cx="2358.16" cy="1002.63" r="4" fill="rgba(255,169,41,.5)" stroke="#ffa929" stroke-width="2.2"/>
<circle cx="2408.80" cy="1002.63" r="4" fill="rgba(255,169,41,.5)" stroke="#ffa929" stroke-width="2.2"/>
<text x="869.7" y="1039.10" text-anchor="end" font-family="Liberation Sans" font-size="24" fill="#666">0</text>
<text x="869.7" y="1010.93" text-anchor="end" font-family="Liberation Sans" font-size="24" fill="#666">2</text>
<text x="869.7" y="982.76" text-anchor="end" font-family="Liberation Sans" font-size="24" fill="#666">4</text>
<text x="869.7" y="954.59" text-anchor="end" font-family="Liberation Sans" font-size="24" fill="#666">6</text>
<text x="869.7" y="926.41" text-anchor="end" font-family="Liberation Sans" font-size="24" fill="#666">8</text>
<text x="869.7" y="898.24" text-anchor="end" font-family="Liberation Sans" font-size="24" fill="#666">10</text>
<text x="869.7" y="870.07" text-anchor="end" font-family="Liberation Sans" font-size="24" fill="#666">12</text>
<text x="869.7" y="841.90" text-anchor="end" font-family="Liberation Sans" font-size="24" fill="#666">14</text>
<text transform="translate(895.70,1055.80) rotate(-50)" text-anchor="end" font-family="Liberation Sans" font-size="24.5" fill="#666">09/16/2020</text>
<text transform="translate(946.34,1055.80) rotate(-50)" text-anchor="end" font-family="Liberation Sans" font-size="24.5" fill="#666">09/17/2020</text>
<text transform="translate(996.97,1055.80) rotate(-50)" text-anchor="end" font-family="Liberation Sans" font-size="24.5" fill="#666">09/18/2020</text>
<text transform="translate(1047.61,1055.80) rotate(-50)" text-anchor="end" font-family="Liberation Sans" font-size="24.5" fill="#666">09/19/2020</text>
<text transform="translate(1098.25,1055.80) rotate(-50)" text-anchor="end" font-family="Liberation Sans" font-size="24.5" fill="#666">09/20/2020</text>
<text transform="translate(1148.88,1055.80) rotate(-50)" text-anchor="end" font-family="Liberation Sans" font-size="24.5" fill="#666">09/21/2020</text>
<text transform="translate(1199.52,1055.80) rotate(-50)" text-anchor="end" font-family="Liberation Sans" font-size="24.5" fill="#666">09/22/2020</text>
<text transform="translate(1250.16,1055.80) rotate(-50)" text-anchor="end" font-family="Liberation Sans" font-size="24.5" fill="#666">09/23/2020</text>
<text transform="translate(1300.79,1055.80) rotate(-50)" text-anchor="end" font-family="Liberation Sans" font-size="24.5" fill="#666">09/24/2020</text>
<text transform="translate(1351.43,1055.80) rotate(-50)" text-anchor="end" font-family="Liberation Sans" font-size="24.5" fill="#666">09/25/2020</text>
<text transform="translate(1402.07,1055.80) rotate(-50)" text-anchor="end" font-family="Liberation Sans" font-size="24.5" fill="#666">09/26/2020</text>
<text transform="translate(1452.70,1055.80) rotate(-50)" text-anchor="end" font-family="Liberation Sans" font-size="24.5" fill="#666">09/27/2020</text>
<text transform="translate(1503.34,1055.80) rotate(-50)" text-anchor="end" font-family="Liberation Sans" font-size="24.5" fill="#666">09/28/2020</text>
<text transform="translate(1553.98,1055.80) rotate(-50)" text-anchor="end" font-family="Liberation Sans" font-size="24.5" fill="#666">09/29/2020</text>
<text transform="translate(1604.61,1055.80) rotate(-50)" text-anchor="end" font-family="Liberation Sans" font-size="24.5" fill="#666">09/30/2020</text>
<text transform="translate(1655.25,1055.80) rotate(-50)" text-anchor="end" font-family="Liberation Sans" font-size="24.5" fill="#666">10/01/2020</text>
<text transform="translate(1705.89,1055.80) rotate(-50)" text-anchor="end" font-family="Liberation Sans" font-size="24.5" fill="#666">10/02/2020</text>
<text transform="translate(1756.52,1055.80) rotate(-50)" text-anchor="end" font-family="Liberation Sans" font-size="24.5" fill="#666">10/03/2020</text>
<text transform="translate(1807.16,1055.80) rotate(-50)" text-anchor="end" font-family="Liberation Sans" font-size="24.5" fill="#666">10/04/2020</text>
<text transform="translate(1857.80,1055.80) rotate(-50)" text-anchor="end" font-family="Liberation Sans" font-size="24.5" fill="#666">10/05/2020</text>
<text transform="translate(1908.43,1055.80) rotate(-50)" text-anchor="end" font-family="Liberation Sans" font-size="24.5" fill="#666">10/06/2020</text>
<text transform="translate(1959.07,1055.80) rotate(-50)" text-anchor="end" font-family="Liberation Sans" font-size="24.5" fill="#666">10/07/2020</text>
<text transform="translate(2009.71,1055.80) rotate(-50)" text-anchor="end" font-family="Liberation Sans" font-size="24.5" fill="#666">10/08/2020</text>
<text transform="translate(2060.34,1055.80) rotate(-50)" text-anchor="end" font-family="Liberation Sans" font-size="24.5" fill="#666">10/09/2020</text>
<text transform="translate(2110.98,1055.80) rotate(-50)" text-anchor="end" font-family="Liberation Sans" font-size="24.5" fill="#666">10/10/2020</text>
<text transform="translate(2161.62,1055.80) rotate(-50)" text-anchor="end" font-family="Liberation Sans" font-size="24.5" fill="#666">10/11/2020</text>
<text transform="translate(2212.25,1055.80) rotate(-50)" text-anchor="end" font-family="Liberation Sans" font-size="24.5" fill="#666">10/12/2020</text>
<text transform="translate(2262.89,1055.80) rotate(-50)" text-anchor="end" font-family="Liberation Sans" font-size="24.5" fill="#666">10/13/2020</text>
<text transform="translate(2313.53,1055.80) rotate(-50)" text-anchor="end" font-family="Liberation Sans" font-size="24.5" fill="#666">10/14/2020</text>
<text transform="translate(2364.16,1055.80) rotate(-50)" text-anchor="end" font-family="Liberation Sans" font-size="24.5" fill="#666">10/15/2020</text>
<text transform="translate(2414.80,1055.80) rotate(-50)" text-anchor="end" font-family="Liberation Sans" font-size="24.5" fill="#666">10/16/2020</text>
</svg>
</body></html>
